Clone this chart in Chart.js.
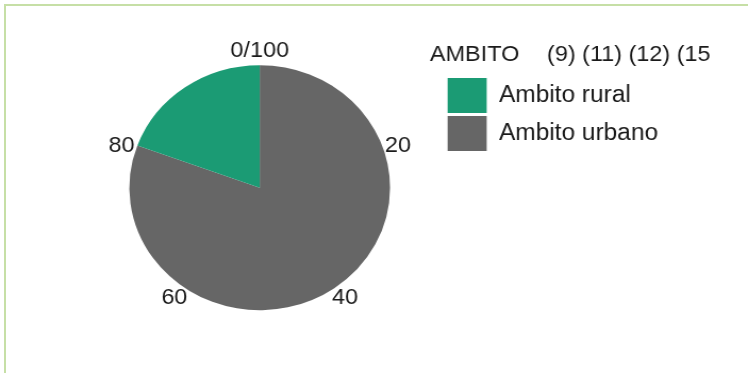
<!DOCTYPE html>
<html>
<head>
<meta charset="utf-8">
<script src="https://cdn.jsdelivr.net/npm/chart.js@4"></script>
<style>
  html, body { margin: 0; padding: 0; background: #fff; overflow: hidden; width: 748px; height: 373px; }
  #frame { position: absolute; left: 4px; top: 4px; width: 900px; height: 500px;
           border-left: 2px solid #c6dfa6; border-top: 2px solid #c6dfa6; }
  #wrap { position: absolute; left: 0; top: 0; width: 703px; height: 373px;
          transform: scaleX(1.064); transform-origin: 0 0; }
</style>
</head>
<body>
<div id="frame"></div>
<div id="wrap"><canvas id="c" width="703" height="373"></canvas></div>
<script>
// Share of cases by setting (percent), drawn clockwise from the top
const categories = ['Ambito urbano', 'Ambito rural'];
const shares = [80.6, 19.4];
const sliceColors = ['#666666', '#1b9b74'];

// Percentage ring labels around the pie
const ringTicks = [0, 20, 40, 60, 80];
const ringTickLabels = ['0/100', '20', '40', '60', '80'];

// Legend heading
const legendTitle = 'AMBITO';
const legendNote = '(9) (11) (12) (15';

const FONT = '"Liberation Sans", Arial, Helvetica, sans-serif';
const TEXT = '#1a1a1a';
const LEGEND_LEFT = 417.7;   // where the legend column should start

// Writes the percentage scale just outside the pie's rim
const ringScale = {
  id: 'ringScale',
  afterDatasetsDraw(chart) {
    const arc = chart.getDatasetMeta(0).data[0];
    if (!arc) return;
    const { x, y, outerRadius } = arc.getProps(['x', 'y', 'outerRadius'], true);
    const r = outerRadius + 14;
    const ctx = chart.ctx;
    ctx.save();
    ctx.font = '22px ' + FONT;
    ctx.fillStyle = TEXT;
    ctx.textAlign = 'center';
    ctx.textBaseline = 'middle';
    ringTicks.forEach((v, i) => {
      const a = -Math.PI / 2 + (v / 100) * Math.PI * 2;
      ctx.fillText(ringTickLabels[i], x + r * Math.cos(a), y + r * Math.sin(a));
    });
    ctx.restore();
  }
};

// Heading line above the legend entries
const legendHeading = {
  id: 'legendHeading',
  afterDraw(chart) {
    const lg = chart.legend;
    if (!lg) return;
    const ctx = chart.ctx;
    ctx.save();
    ctx.font = '22px ' + FONT;
    ctx.fillStyle = TEXT;
    ctx.textAlign = 'left';
    ctx.textBaseline = 'middle';
    const y = lg.top - 20.5;
    ctx.fillText(legendTitle, lg.left - 13.6, y);
    ctx.fillText(legendNote, lg.left + 96.4, y);
    ctx.restore();
  }
};

const chart = new Chart(document.getElementById('c'), {
  type: 'pie',
  data: {
    labels: categories,
    datasets: [{
      data: shares,
      backgroundColor: sliceColors,
      borderWidth: 0,
      radius: 122.5
    }]
  },
  options: {
    responsive: false,
    animation: false,
    devicePixelRatio: 1,
    layout: { padding: { left: 70.5, right: 0, top: 75, bottom: 72.6 } },
    plugins: {
      tooltip: { enabled: false },
      legend: {
        position: 'right',
        align: 'start',
        reverse: true,
        labels: {
          boxWidth: 36.7,
          boxHeight: 35,
          padding: 3,
          color: TEXT,
          font: { family: FONT, size: 23 }
        }
      }
    }
  },
  plugins: [ringScale, legendHeading]
});

// Reserve room on the right so the legend column starts at LEGEND_LEFT
chart.options.layout.padding.right = chart.width - LEGEND_LEFT - chart.legend.width;
chart.update('none');
</script>
</body>
</html>
